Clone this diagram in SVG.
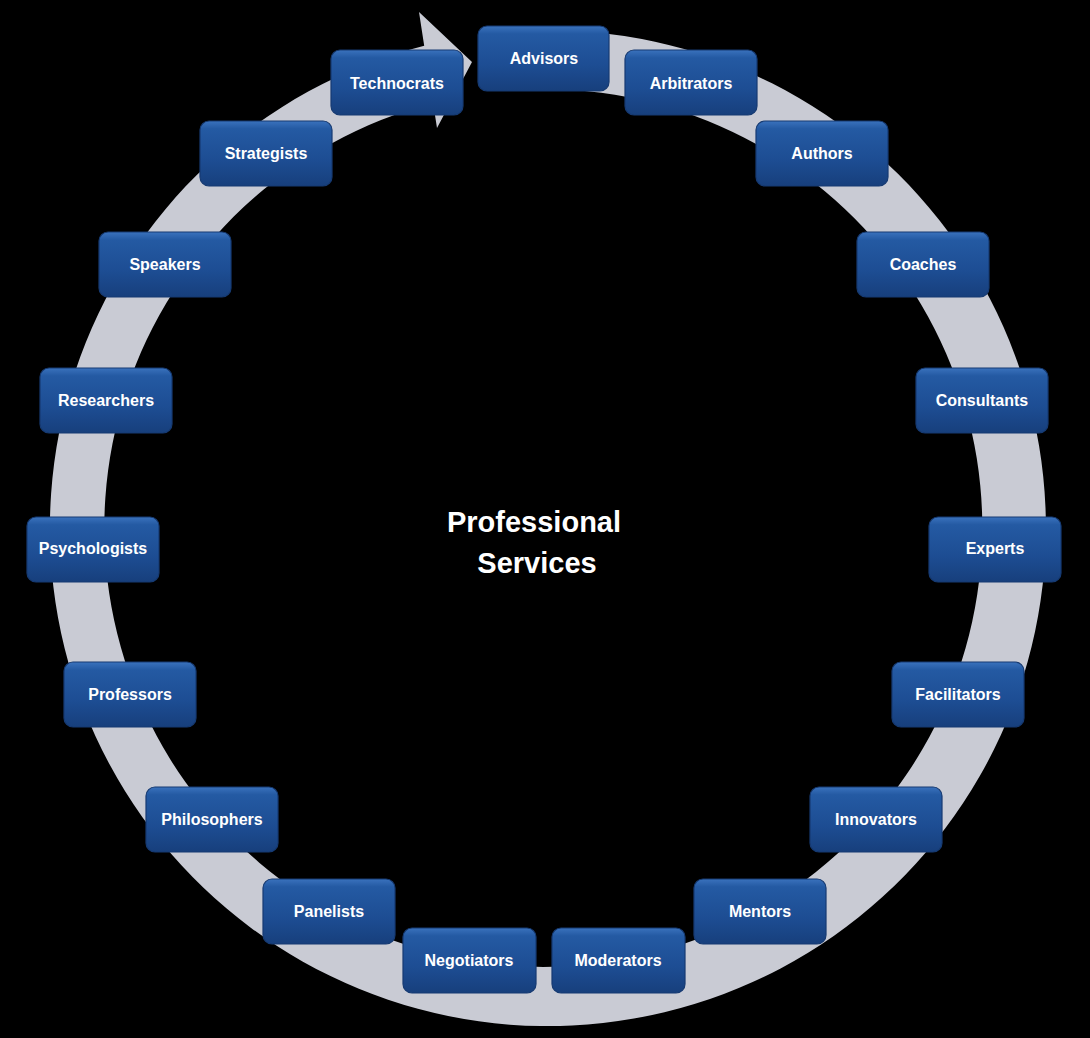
<svg xmlns="http://www.w3.org/2000/svg" width="1090" height="1038" viewBox="0 0 1090 1038">
<defs>
<linearGradient id="bx" x1="0" y1="0" x2="0" y2="1">
<stop offset="0" stop-color="#3a72bd"/>
<stop offset="0.12" stop-color="#245aa3"/>
<stop offset="0.6" stop-color="#1d4d93"/>
<stop offset="1" stop-color="#173f7c"/>
</linearGradient>
<style>
.box rect{fill:url(#bx);stroke:#163a72;stroke-width:1.2}
.box text{fill:#ffffff;font-family:"Liberation Sans",Arial,sans-serif;font-weight:bold;font-size:16px;text-anchor:middle;dominant-baseline:central}
.title{fill:#ffffff;font-family:"Liberation Sans",Arial,sans-serif;font-weight:bold;font-size:29px;text-anchor:middle}
</style>
</defs>
<rect x="0" y="0" width="1090" height="1038" fill="#000000"/>
<g id="connectors">
<path d="M 562.38 30.30 A 498 498 0 1 1 424.2 45.7 L 419 12 L 472 62 L 437 128 L 433.1 103 A 439 439 0 1 0 560.32 89.27 Z" fill="#c9cbd4"/>
</g>
<g id="center"><text class="title" x="534" y="532">Professional</text><text class="title" x="537" y="573">Services</text></g>
<g id="n-advisors" class="box"><rect x="478" y="26" width="131" height="65" rx="9"/><text x="544" y="58">Advisors</text></g>
<g id="n-technocrats" class="box"><rect x="331" y="50" width="132" height="65" rx="9"/><text x="397" y="83">Technocrats</text></g>
<g id="n-arbitrators" class="box"><rect x="625" y="50" width="132" height="65" rx="9"/><text x="691" y="83">Arbitrators</text></g>
<g id="n-strategists" class="box"><rect x="200" y="121" width="132" height="65" rx="9"/><text x="266" y="153">Strategists</text></g>
<g id="n-authors" class="box"><rect x="756" y="121" width="132" height="65" rx="9"/><text x="822" y="153">Authors</text></g>
<g id="n-speakers" class="box"><rect x="99" y="232" width="132" height="65" rx="9"/><text x="165" y="264">Speakers</text></g>
<g id="n-coaches" class="box"><rect x="857" y="232" width="132" height="65" rx="9"/><text x="923" y="264">Coaches</text></g>
<g id="n-researchers" class="box"><rect x="40" y="368" width="132" height="65" rx="9"/><text x="106" y="400">Researchers</text></g>
<g id="n-consultants" class="box"><rect x="916" y="368" width="132" height="65" rx="9"/><text x="982" y="400">Consultants</text></g>
<g id="n-psychologists" class="box"><rect x="27" y="517" width="132" height="65" rx="9"/><text x="93" y="548">Psychologists</text></g>
<g id="n-experts" class="box"><rect x="929" y="517" width="132" height="65" rx="9"/><text x="995" y="548">Experts</text></g>
<g id="n-professors" class="box"><rect x="64" y="662" width="132" height="65" rx="9"/><text x="130" y="694">Professors</text></g>
<g id="n-facilitators" class="box"><rect x="892" y="662" width="132" height="65" rx="9"/><text x="958" y="694">Facilitators</text></g>
<g id="n-philosophers" class="box"><rect x="146" y="787" width="132" height="65" rx="9"/><text x="212" y="819">Philosophers</text></g>
<g id="n-innovators" class="box"><rect x="810" y="787" width="132" height="65" rx="9"/><text x="876" y="819">Innovators</text></g>
<g id="n-panelists" class="box"><rect x="263" y="879" width="132" height="65" rx="9"/><text x="329" y="911">Panelists</text></g>
<g id="n-mentors" class="box"><rect x="694" y="879" width="132" height="65" rx="9"/><text x="760" y="911">Mentors</text></g>
<g id="n-negotiators" class="box"><rect x="403" y="928" width="133" height="65" rx="9"/><text x="469" y="960">Negotiators</text></g>
<g id="n-moderators" class="box"><rect x="552" y="928" width="133" height="65" rx="9"/><text x="618" y="960">Moderators</text></g>
</svg>
